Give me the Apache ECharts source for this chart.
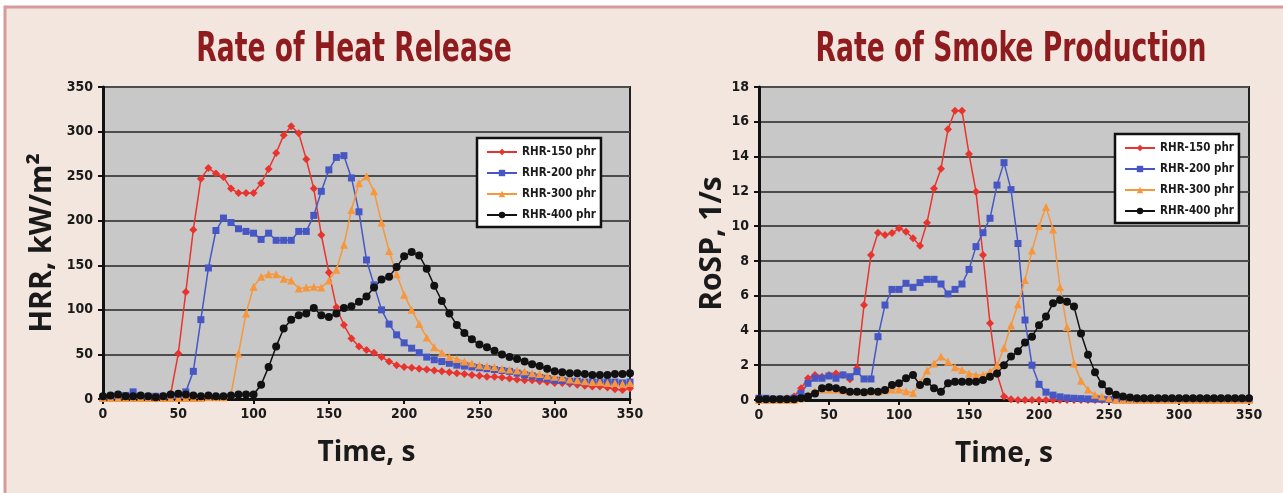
<!DOCTYPE html>
<html>
<head>
<meta charset="utf-8">
<script src="https://cdn.jsdelivr.net/npm/echarts@6/dist/echarts.min.js"></script>
<style>
  html, body { margin: 0; padding: 0; background: #fff; }
  #chart { width: 1283px; height: 493px; }
</style>
</head>
<body>
<div id="chart"></div>
<script>
// time axis, every 5 s
var time = [0, 5, 10, 15, 20, 25, 30, 35, 40, 45, 50, 55, 60, 65, 70, 75, 80, 85, 90, 95,
  100, 105, 110, 115, 120, 125, 130, 135, 140, 145, 150, 155, 160, 165, 170, 175, 180, 185, 190, 195,
  200, 205, 210, 215, 220, 225, 230, 235, 240, 245, 250, 255, 260, 265, 270, 275, 280, 285, 290, 295,
  300, 305, 310, 315, 320, 325, 330, 335, 340, 345, 350];
var timeTicks = [0, 50, 100, 150, 200, 250, 300, 350];
var hrrTicks = [0, 50, 100, 150, 200, 250, 300, 350];
var rospTicks = [0, 2, 4, 6, 8, 10, 12, 14, 16, 18];
var names = ['RHR-150 phr', 'RHR-200 phr', 'RHR-300 phr', 'RHR-400 phr'];

// heat release rate, kW/m2
var hrr150 = [2, 2, 2, 2, 3, 2, 2, 3, 3, 6, 51, 120, 190, 247, 259, 253, 249, 236, 231, 231,
  231, 242, 258, 276, 296, 306, 298, 269, 236, 184, 142, 103, 83, 68, 59, 55, 52, 47, 42, 38,
  36, 35, 34, 33, 32, 31, 30, 29, 28, 27, 26, 25, 25, 24, 23, 22, 21, 21, 20, 19,
  18, 18, 17, 16, 15, 14, 14, 13, 11, 10, 12];
var hrr200 = [2, 3, 3, 4, 8, 3, 3, 3, 3, 4, 4, 8, 31, 89, 147, 189, 203, 198, 191, 188,
  186, 179, 186, 178, 178, 178, 188, 188, 206, 233, 257, 271, 273, 248, 210, 156, 128, 100, 84, 72,
  63, 57, 52, 47, 44, 42, 40, 38, 37, 36, 35, 34, 33, 32, 31, 29, 27, 26, 24, 23,
  21, 21, 20, 20, 19, 19, 19, 19, 19, 18, 19];
var hrr300 = [1, 1, 1, 1, 1, 1, 1, 1, 1, 1, 1, 1, 1, 1, 2, 2, 2, 5, 51, 96,
  126, 137, 140, 140, 135, 133, 124, 125, 126, 125, 133, 145, 173, 212, 242, 250, 233, 198, 166, 140,
  117, 100, 84, 69, 58, 52, 47, 45, 42, 40, 38, 37, 36, 34, 33, 32, 31, 29, 28, 26,
  25, 24, 22, 21, 20, 19, 19, 18, 18, 17, 18];
var hrr400 = [3, 4, 5, 3, 3, 4, 3, 2, 3, 5, 6, 5, 4, 3, 4, 3, 3, 4, 5, 5,
  5, 16, 36, 59, 79, 89, 94, 96, 102, 94, 92, 96, 102, 104, 109, 115, 125, 134, 137, 148,
  160, 165, 161, 146, 127, 110, 96, 83, 74, 67, 61, 58, 54, 50, 47, 45, 42, 39, 37, 34,
  31, 30, 29, 29, 28, 27, 27, 27, 28, 28, 29];

// rate of smoke production, 1/s
var rosp150 = [0.05, 0.05, 0.05, 0.05, 0.1, 0.2, 0.67, 1.25, 1.44, 1.34, 1.44, 1.53, 1.44, 1.2, 1.82, 5.46, 8.34, 9.62, 9.49, 9.6,
  9.87, 9.68, 9.3, 8.87, 10.2, 12.17, 13.3, 15.57, 16.64, 16.64, 14.15, 11.98, 8.34, 4.41, 1.5, 0.2, 0.05, 0, 0, 0,
  0, 0, 0, 0, 0, 0, 0, 0, 0, 0, 0, 0, 0, 0, 0, 0, 0, 0, 0, 0,
  0, 0, 0, 0, 0, 0, 0, 0, 0, 0, 0];
var rosp200 = [0.1, 0.1, 0.05, 0.05, 0.05, 0.1, 0.38, 0.96, 1.25, 1.25, 1.38, 1.25, 1.44, 1.34, 1.63, 1.21, 1.21, 3.64, 5.46, 6.36,
  6.36, 6.71, 6.48, 6.75, 6.94, 6.94, 6.67, 6.1, 6.36, 6.67, 7.51, 8.82, 9.62, 10.45, 12.36, 13.65, 12.1, 9.0, 4.6, 2.0,
  0.9, 0.45, 0.28, 0.18, 0.12, 0.1, 0.08, 0.06, 0.05, 0.04, 0.03, 0.02, 0.02, 0.02, 0.02, 0.02, 0.02, 0.02, 0.02, 0.02,
  0.02, 0.02, 0.02, 0.02, 0.02, 0.02, 0.02, 0.02, 0.02, 0.02, 0.02];
var rosp300 = [0.02, 0.02, 0.02, 0.02, 0.02, 0.02, 0.1, 0.3, 0.5, 0.6, 0.6, 0.6, 0.55, 0.5, 0.5, 0.5, 0.5, 0.5, 0.55, 0.6,
  0.6, 0.5, 0.4, 1.0, 1.7, 2.1, 2.5, 2.2, 1.88, 1.73, 1.53, 1.44, 1.44, 1.63, 2.0, 3.0, 4.3, 5.5, 6.9, 8.6,
  10.0, 11.1, 9.8, 6.5, 4.2, 2.1, 1.1, 0.6, 0.3, 0.2, 0.1, 0.02, 0.02, 0.02, 0.02, 0.02, 0.02, 0.02, 0.02, 0.02,
  0.02, 0.02, 0.02, 0.02, 0.02, 0.02, 0.02, 0.02, 0.02, 0.02, 0.02];
var rosp400 = [0.05, 0.05, 0.05, 0.05, 0.05, 0.05, 0.1, 0.2, 0.38, 0.67, 0.73, 0.67, 0.57, 0.48, 0.48, 0.45, 0.5, 0.48, 0.57, 0.86,
  0.96, 1.25, 1.44, 0.86, 1.05, 0.67, 0.48, 0.96, 1.05, 1.05, 1.05, 1.05, 1.15, 1.34, 1.53, 2.0, 2.5, 2.8, 3.3, 3.64,
  4.3, 4.8, 5.56, 5.75, 5.65, 5.37, 3.83, 2.6, 1.6, 0.9, 0.5, 0.3, 0.2, 0.15, 0.1, 0.1, 0.1, 0.1, 0.1, 0.1,
  0.1, 0.1, 0.1, 0.1, 0.1, 0.1, 0.1, 0.1, 0.1, 0.1, 0.1];

var colors = ['#e8342e', '#4657c4', '#f7963b', '#111111'];
var symbols = ['diamond', 'rect', 'triangle', 'circle'];
var narrow = "'Liberation Sans Narrow', 'DejaVu Sans Condensed', 'Roboto Condensed', sans-serif";

function pairs(vals) {
  return time.map(function (t, i) { return [t, vals[i]]; });
}

function mkSeries(vals, idx, gi) {
  return {
    name: names[idx],
    type: 'line',
    xAxisIndex: gi,
    yAxisIndex: gi,
    data: pairs(vals),
    symbol: symbols[idx],
    symbolSize: idx === 1 ? 7 : 8,
    showSymbol: true,
    lineStyle: { color: colors[idx], width: 1.5 },
    itemStyle: { color: colors[idx] },
    animation: false
  };
}

function xAx(gi) {
  return {
    type: 'value', gridIndex: gi, min: timeTicks[0], max: timeTicks[timeTicks.length - 1], interval: 50,
    name: 'Time, s', nameLocation: 'middle', nameGap: 40,
    nameTextStyle: { fontFamily: 'Open Sans', fontWeight: 'bold', fontSize: 28, color: '#1a1a1a' },
    axisLine: { lineStyle: { color: '#111', width: 3 } },
    axisTick: { show: true, length: 5, lineStyle: { color: '#111', width: 2 } },
    axisLabel: { fontFamily: narrow, fontWeight: 'bold', fontSize: 14, color: '#1a1a1a', margin: 8 },
    splitLine: { show: false }
  };
}

function yAx(gi, ticks, title, gap) {
  return {
    type: 'value', gridIndex: gi, min: ticks[0], max: ticks[ticks.length - 1], interval: ticks[1] - ticks[0],
    name: title, nameLocation: 'middle', nameGap: gap, nameRotate: 90,
    nameTextStyle: { fontFamily: 'Open Sans', fontWeight: 'bold', fontSize: 30, color: '#1a1a1a' },
    axisLine: { show: true, lineStyle: { color: '#111', width: 3 } },
    axisTick: { show: true, length: 5, lineStyle: { color: '#111', width: 2 } },
    axisLabel: { fontFamily: narrow, fontWeight: 'bold', fontSize: 14, color: '#1a1a1a', margin: 10 },
    splitLine: { show: true, lineStyle: { color: '#4d4d4d', width: 2 } }
  };
}

function legend(left, top) {
  return {
    data: names, orient: 'vertical', left: left, top: top,
    backgroundColor: '#fff', borderColor: '#111', borderWidth: 2.5, borderRadius: 0,
    padding: [8, 5, 6, 9], itemGap: 9, itemWidth: 30, itemHeight: 8,
    textStyle: { fontFamily: narrow, fontWeight: 'bold', fontSize: 11.5, color: '#1a1a1a' }
  };
}

// condensed-looking titles: plain bold text squeezed horizontally
function titleText(text, cx) {
  return {
    type: 'text', x: cx, y: 31, scaleX: 0.74, silent: true,
    style: {
      text: text, x: 0, y: 0, textAlign: 'center', textVerticalAlign: 'top',
      fontFamily: narrow, fontWeight: 'bold', fontSize: 40, fill: '#8e1b1e'
    }
  };
}

var chart = echarts.init(document.getElementById('chart'), null, { renderer: 'canvas' });
chart.setOption({
  backgroundColor: '#ffffff',
  animation: false,
  graphic: [{
    type: 'rect', z: -10, silent: true,
    shape: { x: 5, y: 7, width: 1300, height: 520 },
    style: { fill: '#f3e6df', stroke: '#d59a9c', lineWidth: 3 }
  },
  titleText('Rate of Heat Release', 354),
  titleText('Rate of Smoke Production', 1011)
  ],
  legend: [legend(477, 138), legend(1115, 134)],
  grid: [
    { left: 103, top: 87, right: 653, bottom: 94, show: true, backgroundColor: '#c8c8c8', borderColor: '#222', borderWidth: 2 },
    { left: 759, top: 87, right: 34, bottom: 93, show: true, backgroundColor: '#c8c8c8', borderColor: '#222', borderWidth: 2 }
  ],
  xAxis: [xAx(0), xAx(1)],
  yAxis: [yAx(0, hrrTicks, 'HRR, kW/m²', 46), yAx(1, rospTicks, 'RoSP, 1/s', 32)],
  series: [
    mkSeries(hrr150, 0, 0), mkSeries(hrr200, 1, 0), mkSeries(hrr300, 2, 0), mkSeries(hrr400, 3, 0),
    mkSeries(rosp150, 0, 1), mkSeries(rosp200, 1, 1), mkSeries(rosp300, 2, 1), mkSeries(rosp400, 3, 1)
  ]
});
</script>
</body>
</html>
